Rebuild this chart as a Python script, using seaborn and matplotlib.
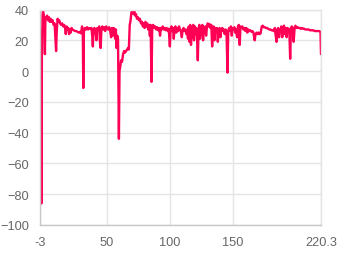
import matplotlib
matplotlib.use("Agg")
import matplotlib.pyplot as plt
import seaborn as sns
import pandas as pd

x_values = [
    -3.0, -2.7, -2.5, -2.2, -1.9, -1.5, -1.0, -0.6, -0.1, 0.5, 0.9, 1.3, 2.0, 2.7, 3.4, 4.1, 4.8, 5.5,
    6.2, 7.0, 7.8, 8.6, 9.3, 9.8, 10.3, 11.0, 11.6, 12.3, 13.0, 13.8, 14.6, 15.4, 16.2, 16.9, 17.5,
    18.1, 18.8, 19.5, 20.1, 20.7, 21.4, 22.1, 22.9, 23.8, 24.8, 25.8, 26.8, 27.8, 28.7, 29.6, 30.4,
    31.0, 31.4, 31.9, 32.7, 33.5, 34.3, 35.2, 36.1, 37.0, 37.9, 38.6, 39.0, 39.5, 40.3, 41.1, 41.8,
    42.5, 43.3, 44.1, 44.6, 45.2, 45.8, 46.5, 47.3, 48.0, 48.8, 49.6, 50.4, 51.2, 52.0, 52.8, 53.5,
    54.2, 54.9, 55.6, 56.3, 56.7, 57.3, 57.8, 58.4, 59.0, 59.7, 60.2, 60.8, 61.4, 62.2, 63.0, 63.8,
    64.6, 65.4, 66.2, 67.0, 67.6, 68.3, 69.0, 69.6, 70.2, 70.7, 71.3, 71.9, 72.6, 73.3, 74.0, 74.8,
    75.6, 76.4, 77.2, 78.0, 78.7, 79.4, 80.1, 80.8, 81.5, 82.2, 83.0, 83.7, 84.3, 84.9, 85.6, 86.2,
    86.9, 87.7, 88.5, 89.3, 90.1, 90.9, 91.7, 92.4, 93.0, 93.7, 94.5, 95.3, 96.1, 96.9, 97.7, 98.5,
    99.3, 100.2, 100.8, 101.5, 102.2, 102.8, 103.3, 103.9, 104.6, 105.3, 106.0, 106.8, 107.5, 108.2,
    108.9, 109.7, 110.4, 111.1, 111.9, 112.6, 113.3, 114.0, 114.6, 115.2, 115.8, 116.4, 117.0, 117.6,
    118.2, 118.8, 119.4, 120.0, 120.6, 121.2, 121.8, 122.4, 123.0, 123.6, 124.2, 124.8, 125.4, 126.0,
    126.6, 127.2, 127.8, 128.4, 129.0, 129.6, 130.3, 131.0, 131.7, 132.4, 133.1, 133.8, 134.4, 135.0,
    135.6, 136.2, 136.9, 137.6, 138.3, 139.0, 139.7, 140.4, 141.1, 141.8, 142.5, 143.2, 143.8, 144.5,
    145.2, 146.0, 146.6, 147.3, 148.0, 148.7, 149.4, 150.1, 150.8, 151.5, 152.2, 152.9, 153.6, 154.3,
    155.0, 155.7, 156.3, 157.0, 157.8, 158.6, 159.4, 160.2, 161.0, 161.8, 162.6, 163.4, 164.2, 165.0,
    165.8, 166.6, 167.6, 168.3, 169.1, 169.9, 170.7, 171.5, 172.3, 173.2, 174.0, 174.8, 175.6, 176.5,
    177.4, 178.3, 179.2, 180.1, 181.0, 181.9, 182.8, 183.6, 184.3, 185.0, 185.6, 186.3, 187.0, 187.6,
    188.2, 188.8, 189.5, 190.2, 190.9, 191.6, 192.3, 193.0, 193.7, 194.4, 195.1, 195.8, 196.4, 197.1,
    197.8, 198.6, 199.3, 200.0, 200.8, 201.6, 202.5, 203.4, 204.3, 205.2, 206.1, 207.0, 207.9, 208.8,
    209.7, 210.6, 211.5, 212.4, 213.3, 214.2, 215.1, 216.0, 216.9, 217.8, 218.7, 219.9, 220.3,
]
y_values = [
    27, 25, -68, 24, -86, 10, 36, 39, 37, 35, 11, 35, 34, 36, 33, 35, 32, 34,
    32, 33, 30, 31, 20, 13, 26, 34, 32, 33, 31, 30, 31, 29, 30, 28, 24,
    29, 27, 28, 24, 27, 25, 28, 27, 26.5, 26, 26, 25.5, 25, 25.5, 24.5, 29,
    25, -11, 26, 28, 27, 28.5, 27, 28, 27.5, 28, 22, 16, 27, 28, 26, 20,
    28, 27, 29, 19, 15, 27, 29, 27, 28.5, 26, 29, 28, 27, 28.5, 26, 22,
    28, 23, 28, 27, 21, 27, 15, 23, 21, -44, 0, 3, 7, 6, 11, 13,
    12, 13, 14, 15, 14, 30, 33, 38, 39, 40, 37, 39, 36, 37, 34, 35,
    33, 34, 31, 32, 29, 31, 28, 32, 29, 31, 27, 30, 23, 30, -7, 29,
    30, 28, 29, 27, 28.5, 26.5, 28, 23, 28, 27, 29, 27, 28, 26.5, 28, 26,
    27.5, 16, 27, 29, 26, 28, 21, 27, 29, 25, 28, 26, 29, 27,
    26, 22, 27, 28, 26, 27, 24, 27, 21, 29, 19, 30, 17, 28,
    22, 30, 20, 29, 24, 28, 22, 7, 27, 30, 21, 29, 24, 30,
    20, 28, 25, 29, 23, 28, 31, 29, 30.5, 28, 30, 16, 27, 29,
    20, 28, 26, 28, 19, 27, 28, 22, 27, 28, 26, 27, 24, 27,
    26, -1, 26, 28, 26, 29, 23, 28, 27, 28.5, 25, 27, 22, 29,
    30, 17, 29, 28, 29, 27, 28, 26, 28, 25, 27, 26, 26.5, 25.5,
    26, 25, 20, 24, 25, 24, 25, 24, 24.5, 29, 29.5, 28.5, 28.5, 28,
    28, 27.5, 27, 27, 26.5, 26.5, 26, 28, 23, 19, 27, 28, 22, 27,
    26, 29, 22, 28, 29.5, 24, 28, 22, 28, 27, 27, 8, 28, 29,
    28, 19, 28, 29.5, 28, 28.5, 28, 28, 27.5, 28, 27.5, 27.5, 27, 27,
    27, 27, 26.5, 26.5, 26.5, 26.5, 26, 26, 26, 26, 26, 25.5, 11,
]
x_ticks = [-3, 50, 100, 150, 220.3]
x_tick_labels = ["-3", "50", "100", "150", "220.3"]
y_ticks = [-100, -80, -60, -40, -20, 0, 20, 40]

df = pd.DataFrame({"x": x_values, "y": y_values})

sns.set_style("white")
plt.rcParams["font.family"] = ["Liberation Sans", "DejaVu Sans"]

fig, ax = plt.subplots(figsize=(3.4, 2.55), dpi=100)
fig.subplots_adjust(left=40 / 340, right=321 / 340, top=1 - 10.5 / 255, bottom=1 - 226 / 255)

sns.lineplot(data=df, x="x", y="y", ax=ax, color="#ff0055", linewidth=1.7,
             estimator=None, sort=False)

ax.set_xlim(-3, 220.3)
ax.set_ylim(-100, 40)
ax.set_xticks(x_ticks)
ax.set_xticklabels(x_tick_labels)
ax.set_yticks(y_ticks)
ax.set_xlabel("")
ax.set_ylabel("")

grid_color = "#e4e4e4"
ax.grid(True, color=grid_color, linewidth=1)
ax.set_axisbelow(True)
for side in ["top", "right"]:
    ax.spines[side].set_color(grid_color)
    ax.spines[side].set_linewidth(1)
for side in ["left", "bottom"]:
    ax.spines[side].set_color("#c8c8c8")
    ax.spines[side].set_linewidth(1)

ax.tick_params(axis="both", length=5.5, width=0.75, color=grid_color,
               labelcolor="#666666", labelsize=9.2, pad=2.5)

fig.savefig("out.png", dpi=100)
